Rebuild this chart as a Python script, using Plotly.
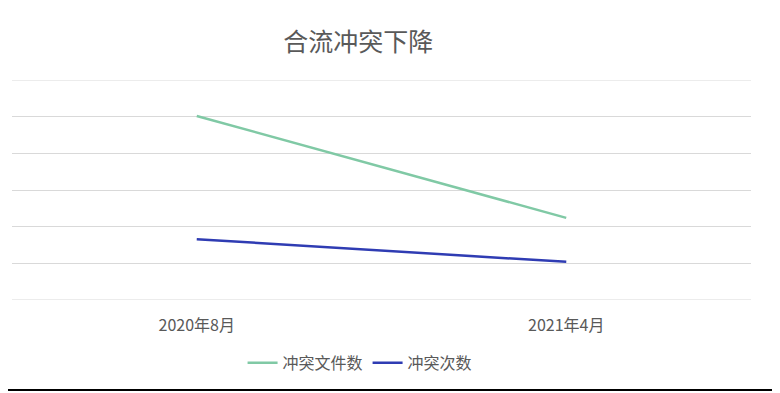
import plotly.graph_objects as go

categories = ["2020年8月", "2021年4月"]
files_conflict = [5.02, 2.24]
count_conflict = [1.66, 1.04]
series_names = ["冲突文件数", "冲突次数"]

font = "Noto Sans CJK SC"
fig = go.Figure()
fig.add_trace(go.Scatter(x=categories, y=files_conflict, mode="lines", name=series_names[0],
                         line=dict(color="#80c9a5", width=2.5)))
fig.add_trace(go.Scatter(x=categories, y=count_conflict, mode="lines", name=series_names[1],
                         line=dict(color="#2f3cb3", width=2.5)))

fig.update_layout(
    width=780, height=393,
    margin=dict(l=4, r=37, t=72, b=101, autoexpand=False),
    paper_bgcolor="white", plot_bgcolor="white",
    font=dict(family=font, color="#595959", size=16),
    title=dict(text="合流冲突下降", x=0.449, xanchor="center", y=0.913, yanchor="middle",
               font=dict(size=25, color="#595959", family=font)),
    showlegend=True,
    legend=dict(orientation="h", x=0.471, xanchor="center", y=-0.286, yanchor="middle",
                font=dict(size=16, color="#595959"), itemwidth=30, tracegroupgap=0),
    xaxis=dict(type="category", range=[-0.5, 1.5], showgrid=False, zeroline=False,
               showline=False, ticks="", ticklabelstandoff=14,
               tickfont=dict(size=16, color="#595959")),
    yaxis=dict(range=[0, 6], dtick=1, showgrid=True, gridcolor="#d9d9d9", gridwidth=1,
               zeroline=False, showticklabels=False, showline=False, ticks=""),
)
fig.add_hline(y=0, line_color="#d9d9d9", line_width=1)
fig.add_hline(y=6, line_color="#d9d9d9", line_width=1)
fig.add_shape(type="line", xref="paper", yref="paper", x0=-0.02, x1=1.06,
              y0=-0.409, y1=-0.409, line=dict(color="black", width=2))
fig.write_html("out.html")
